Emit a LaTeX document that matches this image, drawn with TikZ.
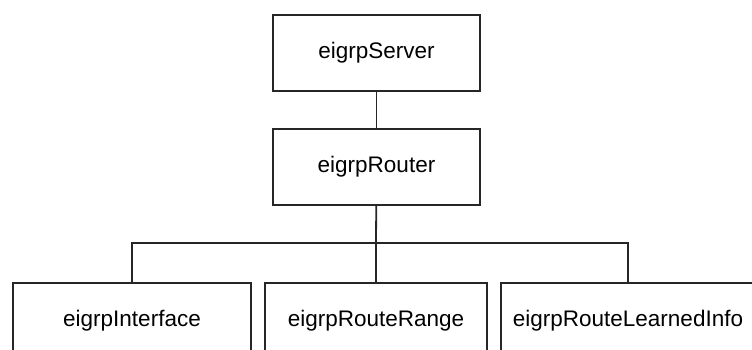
\documentclass[tikz,border=0pt]{standalone}
\usepackage{fontspec}
\setmainfont{Liberation Sans}
\begin{document}
\begin{tikzpicture}[x=1pt,y=-1pt,
  box/.style={draw=black!85,line width=1.8pt,minimum height=76pt,inner sep=0pt,
    font=\fontsize{22.5}{26}\selectfont},
  link/.style={draw=black!85,line width=1.8pt}]
\useasboundingbox (0,0) rectangle (752,349);
% upper chain
\node[box,minimum width=207pt] (server) at (376.5,53) {eigrpServer};
\node[box,minimum width=207pt] (router) at (376.5,167) {eigrpRouter};
% lower row
\node[box,minimum width=238pt] (iface) at (132,321) {eigrpInterface};
\node[box,minimum width=222pt] (range) at (376,321) {eigrpRouteRange};
\node[box,minimum width=254pt] (learned) at (628,321) {eigrpRouteLearnedInfo};
% connectors
\coordinate (bus) at (376,243);
\draw[link] (server) -- (router);
\draw[link] (router) -- (bus);
\draw[link] (iface.north) |- (bus) -| (learned.north);
\draw[link] (bus) -- (range.north);
\end{tikzpicture}
\end{document}
